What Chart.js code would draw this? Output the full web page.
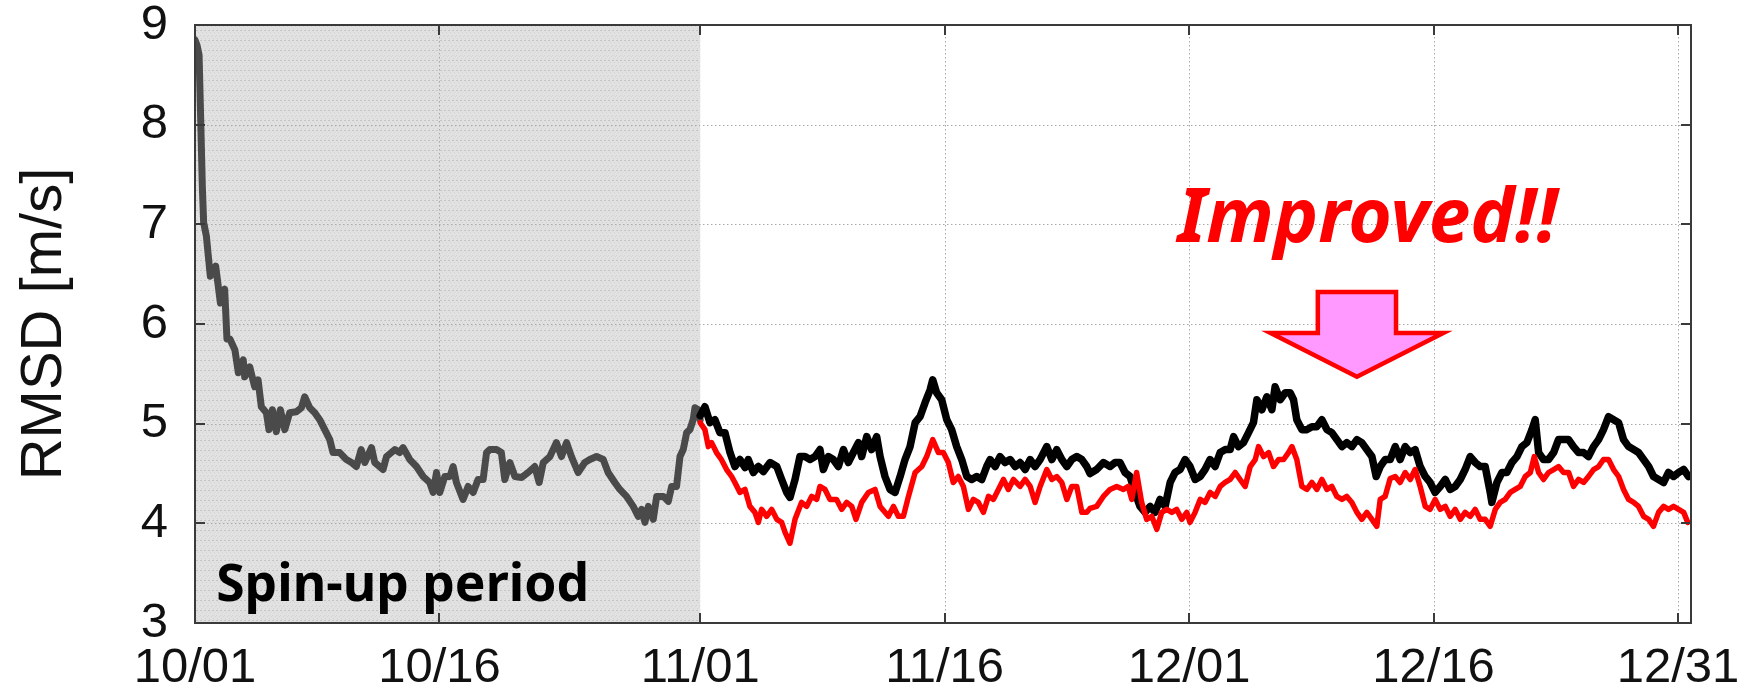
<!DOCTYPE html>
<html>
<head>
<meta charset="utf-8">
<script src="https://cdn.jsdelivr.net/npm/chart.js@4.4.1/dist/chart.umd.min.js"></script>
<style>
  html, body { margin: 0; padding: 0; background: #fff; }
  #wrap { width: 1751px; height: 699px; }
</style>
</head>
<body>
<div id="wrap"><canvas id="c" width="1751" height="699"></canvas></div>
<script>
// x positions are days since 10/01 00Z
const tickDays   = [0, 15, 31, 46, 61, 76, 91];
const tickLabels = ['10/01', '10/16', '11/01', '11/16', '12/01', '12/16', '12/31'];
const spinupEnd = 31;

// spin-up period (gray)
const spinupDays = [0.0,0.12,0.25,0.35,0.45,0.53,0.7,0.8,0.94,1.27,1.56,1.82,1.96,2.14,2.45,2.66,2.96,3.05,3.36,3.66,3.87,4.07,4.38,4.54,4.75,4.99,5.24,5.51,5.81,6.22,6.53,6.73,7.04,7.35,7.65,7.96,8.27,8.47,8.88,9.29,9.6,9.9,10.2,10.42,10.83,11.03,11.54,11.75,12.26,12.56,12.77,13.18,13.59,14.0,14.4,14.61,14.82,15.02,15.33,15.64,15.84,16.04,16.45,16.76,17.07,17.37,17.68,17.89,18.09,18.5,18.8,19.01,19.32,19.63,20.04,20.44,20.85,21.12,21.37,21.78,22.18,22.49,22.8,23.1,23.51,23.92,24.23,24.64,25.05,25.35,25.76,26.07,26.48,26.89,27.2,27.41,27.61,27.82,28.12,28.33,28.74,29.04,29.25,29.55,29.76,29.96,30.17,30.37,30.57,30.68,30.88,31.0];
const spinupRmsd = [8.85,8.8,8.7,8.05,7.38,7.02,6.88,6.71,6.48,6.58,6.21,6.35,5.85,5.85,5.74,5.51,5.64,5.47,5.57,5.37,5.44,5.17,5.11,4.94,5.14,4.92,5.14,4.94,5.11,5.12,5.16,5.27,5.16,5.11,5.04,4.94,4.84,4.71,4.71,4.64,4.61,4.57,4.74,4.61,4.76,4.61,4.54,4.67,4.74,4.71,4.76,4.64,4.57,4.47,4.41,4.31,4.51,4.31,4.47,4.47,4.57,4.41,4.24,4.37,4.31,4.44,4.44,4.71,4.74,4.74,4.71,4.44,4.61,4.47,4.46,4.51,4.57,4.41,4.61,4.67,4.81,4.67,4.81,4.67,4.51,4.61,4.64,4.67,4.64,4.51,4.41,4.34,4.27,4.17,4.07,4.14,4.01,4.17,4.04,4.27,4.27,4.22,4.37,4.37,4.67,4.74,4.91,4.94,5.04,5.16,5.14,5.04];

// black run after spin-up
const ctrlDays = [31.0,31.29,31.6,31.9,32.21,32.52,32.83,33.13,33.44,33.75,33.95,34.26,34.57,34.88,35.29,35.7,36.0,36.31,36.51,36.82,37.12,37.43,37.74,38.05,38.35,38.56,38.86,39.17,39.48,39.79,40.09,40.4,40.71,40.91,41.22,41.52,41.83,42.04,42.34,42.65,42.96,43.27,43.57,43.88,44.19,44.49,44.8,45.11,45.27,45.51,45.82,46.13,46.43,46.74,47.05,47.36,47.66,47.97,48.28,48.58,48.79,49.1,49.4,49.71,50.02,50.33,50.63,50.94,51.25,51.55,51.86,52.27,52.58,52.88,53.19,53.5,53.8,54.11,54.42,54.72,54.92,55.33,55.74,56.15,56.46,56.76,57.07,57.38,57.68,57.99,58.3,58.61,58.91,59.22,59.53,59.84,60.14,60.45,60.76,61.06,61.37,61.68,61.98,62.29,62.6,62.91,63.21,63.52,63.73,64.03,64.34,64.65,64.95,65.16,65.47,65.77,66.08,66.28,66.59,66.9,67.2,67.41,67.61,67.92,68.23,68.54,68.84,69.15,69.46,69.76,70.07,70.38,70.68,70.99,71.3,71.6,71.91,72.22,72.48,72.73,73.03,73.34,73.65,73.95,74.26,74.57,74.87,75.18,75.49,75.79,76.1,76.41,76.72,77.02,77.33,77.64,77.94,78.25,78.56,78.86,79.17,79.48,79.58,79.89,80.2,80.5,80.81,81.12,81.42,81.73,82.04,82.24,82.45,82.75,83.06,83.37,83.67,83.98,84.29,84.59,84.9,85.21,85.51,85.82,86.13,86.43,86.74,87.05,87.36,87.66,87.97,88.28,88.58,88.89,89.2,89.5,89.81,90.12,90.42,90.73,91.04,91.35,91.65];
const ctrlRmsd = [5.08,5.17,5.01,5.04,4.91,4.91,4.71,4.57,4.64,4.56,4.64,4.51,4.57,4.52,4.61,4.57,4.44,4.31,4.26,4.44,4.67,4.67,4.64,4.67,4.74,4.54,4.67,4.64,4.57,4.74,4.61,4.71,4.81,4.67,4.87,4.74,4.87,4.67,4.47,4.34,4.31,4.47,4.64,4.77,5.01,5.07,5.21,5.34,5.44,5.31,5.24,5.04,4.94,4.77,4.64,4.47,4.44,4.47,4.44,4.57,4.64,4.57,4.67,4.61,4.64,4.57,4.61,4.54,4.64,4.57,4.64,4.77,4.64,4.74,4.64,4.57,4.64,4.67,4.64,4.57,4.5,4.54,4.61,4.57,4.61,4.61,4.51,4.47,4.31,4.17,4.11,4.17,4.11,4.24,4.17,4.41,4.51,4.54,4.64,4.57,4.44,4.47,4.54,4.64,4.57,4.71,4.74,4.74,4.87,4.77,4.81,4.91,5.01,5.24,5.14,5.27,5.14,5.37,5.24,5.31,5.31,5.24,5.04,4.94,4.94,4.97,4.97,5.04,4.94,4.91,4.84,4.77,4.81,4.77,4.84,4.81,4.74,4.67,4.47,4.57,4.64,4.64,4.77,4.64,4.77,4.71,4.74,4.57,4.47,4.41,4.31,4.37,4.44,4.34,4.37,4.44,4.54,4.67,4.61,4.57,4.57,4.31,4.21,4.41,4.51,4.51,4.61,4.67,4.77,4.81,4.94,5.04,4.71,4.64,4.64,4.71,4.84,4.84,4.84,4.77,4.71,4.71,4.67,4.77,4.84,4.94,5.07,5.04,5.01,4.84,4.77,4.74,4.71,4.64,4.57,4.47,4.44,4.41,4.51,4.47,4.51,4.54,4.47];

// red run after spin-up
const expDays = [31.0,31.29,31.5,31.7,32.0,32.3,32.62,32.93,33.13,33.44,33.75,34.05,34.36,34.57,34.77,35.08,35.39,35.7,36.0,36.21,36.51,36.82,37.22,37.53,37.84,38.15,38.35,38.66,38.96,39.37,39.68,39.99,40.3,40.56,40.91,41.32,41.73,42.04,42.55,42.86,43.16,43.47,43.78,44.19,44.6,44.9,45.27,45.62,45.92,46.23,46.53,46.84,47.15,47.46,47.76,48.07,48.38,48.69,48.99,49.3,49.61,49.91,50.22,50.63,50.94,51.25,51.55,51.86,52.27,52.58,52.88,53.19,53.5,53.8,54.11,54.42,54.72,54.92,55.33,55.74,56.15,56.56,56.97,57.27,57.48,57.78,58.09,58.4,58.71,59.02,59.32,59.63,59.94,60.24,60.55,60.86,61.06,61.37,61.68,61.98,62.29,62.6,62.91,63.21,63.52,63.83,64.13,64.44,64.75,65.06,65.26,65.57,65.88,66.18,66.49,66.8,67.1,67.31,67.61,67.92,68.23,68.54,68.84,69.15,69.46,69.76,70.07,70.38,70.68,70.99,71.3,71.6,71.91,72.22,72.52,72.73,73.03,73.34,73.65,73.95,74.26,74.57,74.87,75.18,75.49,75.79,76.1,76.41,76.72,77.02,77.33,77.64,77.94,78.25,78.56,78.86,79.17,79.48,79.79,80.09,80.4,80.71,81.01,81.32,81.63,81.94,82.18,82.45,82.75,83.06,83.37,83.67,83.98,84.29,84.59,84.9,85.21,85.51,85.82,86.13,86.43,86.74,87.05,87.36,87.66,87.97,88.28,88.58,88.89,89.2,89.5,89.81,90.12,90.42,90.73,91.04,91.35,91.6];
const expRmsd = [5.01,4.94,4.77,4.81,4.71,4.64,4.54,4.47,4.41,4.31,4.34,4.17,4.11,4.01,4.14,4.07,4.14,4.04,4.01,3.91,3.8,4.04,4.21,4.17,4.27,4.24,4.37,4.34,4.24,4.24,4.14,4.21,4.17,4.04,4.21,4.31,4.34,4.17,4.07,4.17,4.07,4.07,4.27,4.51,4.57,4.67,4.84,4.71,4.71,4.61,4.41,4.47,4.37,4.14,4.24,4.21,4.11,4.27,4.24,4.34,4.44,4.34,4.44,4.37,4.44,4.37,4.21,4.37,4.54,4.44,4.47,4.41,4.24,4.37,4.37,4.11,4.11,4.15,4.17,4.27,4.34,4.37,4.34,4.37,4.24,4.51,4.21,4.04,4.07,3.94,4.11,4.14,4.11,4.14,4.04,4.11,4.01,4.11,4.24,4.21,4.31,4.27,4.37,4.41,4.44,4.51,4.44,4.37,4.57,4.64,4.77,4.67,4.71,4.57,4.64,4.64,4.71,4.77,4.64,4.37,4.34,4.41,4.34,4.44,4.34,4.37,4.27,4.24,4.27,4.21,4.11,4.04,4.11,4.04,3.97,4.24,4.27,4.45,4.47,4.41,4.51,4.44,4.54,4.37,4.17,4.14,4.24,4.14,4.17,4.07,4.14,4.04,4.11,4.07,4.14,4.04,4.04,3.97,4.14,4.21,4.24,4.31,4.34,4.37,4.47,4.51,4.67,4.51,4.44,4.51,4.54,4.57,4.51,4.51,4.37,4.44,4.41,4.47,4.54,4.57,4.64,4.64,4.54,4.47,4.34,4.24,4.21,4.17,4.07,4.04,3.97,4.11,4.17,4.14,4.17,4.14,4.11,4.01];

const toPoints = (xs, ys) => xs.map((d, i) => ({ x: d, y: ys[i] }));

// halftone-like fill for the spin-up band
function makeShadePattern(ctx) {
  const p = document.createElement('canvas');
  p.width = 4; p.height = 10;
  const g = p.getContext('2d');
  g.fillStyle = '#e1e1e1';
  g.fillRect(0, 0, 4, 10);
  g.fillStyle = '#d3d3d3';
  g.fillRect(0, 5, 1, 1); g.fillRect(2, 2, 1, 1); g.fillRect(1, 8, 1, 1); g.fillRect(3, 6, 1, 1);
  g.fillStyle = '#c4c4c4';
  g.fillRect(0, 0, 2, 1);
  return ctx.createPattern(p, 'repeat');
}

// scales keep no extra padding; the layout padding alone places the plot box
const noPad = s => { s.paddingTop = 0; s.paddingBottom = 0; s.paddingLeft = 0; s.paddingRight = 0; };

const frame = {
  id: 'frame',
  beforeDatasetsDraw(chart) {
    const { ctx, chartArea: a, scales: { x, y } } = chart;
    ctx.save();
    // spin-up shading
    const xe = x.getPixelForValue(spinupEnd);
    ctx.fillStyle = makeShadePattern(ctx);
    ctx.fillRect(a.left, a.top, xe - a.left, a.bottom - a.top);
    // dotted grid
    ctx.strokeStyle = '#a8a8a8';
    ctx.lineWidth = 1;
    ctx.setLineDash([1.5, 2.5]);
    for (let v = 4; v <= 8; v++) {
      const py = Math.round(y.getPixelForValue(v)) + 0.5;
      ctx.beginPath(); ctx.moveTo(a.left, py); ctx.lineTo(a.right, py); ctx.stroke();
    }
    tickDays.forEach((d, i) => {
      if (i === 0) return;
      const px = Math.round(x.getPixelForValue(d)) + 0.5;
      ctx.strokeStyle = d === spinupEnd ? '#f4f4f4' : '#a8a8a8';
      ctx.beginPath(); ctx.moveTo(px, a.top); ctx.lineTo(px, a.bottom); ctx.stroke();
    });
    ctx.restore();
  },
  afterDatasetsDraw(chart) {
    const { ctx, chartArea: a, scales: { x, y } } = chart;
    ctx.save();
    // border
    ctx.strokeStyle = '#3a3a3a';
    ctx.lineWidth = 2;
    ctx.strokeRect(a.left, a.top, a.right - a.left, a.bottom - a.top);
    // inward ticks
    const tl = 10;
    ctx.beginPath();
    for (let v = 4; v <= 8; v++) {
      const py = Math.round(y.getPixelForValue(v));
      ctx.moveTo(a.left, py); ctx.lineTo(a.left + tl, py);
      ctx.moveTo(a.right, py); ctx.lineTo(a.right - tl, py);
    }
    tickDays.forEach(d => {
      const px = Math.round(x.getPixelForValue(d));
      ctx.moveTo(px, a.bottom); ctx.lineTo(px, a.bottom - tl);
      ctx.moveTo(px, a.top); ctx.lineTo(px, a.top + tl);
    });
    ctx.stroke();

    const X = v => x.getPixelForValue(v), Y = v => y.getPixelForValue(v);
    const fit = (text, font, size, width) => {
      ctx.font = font.replace('SZ', size + 'px');
      const w = ctx.measureText(text).width;
      ctx.font = font.replace('SZ', (size * width / w).toFixed(1) + 'px');
    };
    ctx.textBaseline = 'alphabetic';
    ctx.textAlign = 'left';

    // "Spin-up period" label
    ctx.fillStyle = '#000';
    fit('Spin-up period', 'bold SZ "Noto Sans"', 50, 373);
    ctx.fillText('Spin-up period', X(1.3), Y(3.22));

    // "Improved!!" label
    ctx.fillStyle = '#ff0000';
    fit('Improved!!', 'italic bold SZ "Noto Sans"', 70, 380);
    ctx.fillText('Improved!!', X(60.3), Y(6.82));

    // down arrow
    ctx.beginPath();
    ctx.moveTo(X(68.9), Y(6.32));
    ctx.lineTo(X(73.7), Y(6.32));
    ctx.lineTo(X(73.7), Y(5.91));
    ctx.lineTo(X(76.6), Y(5.91));
    ctx.lineTo(X(71.3), Y(5.47));
    ctx.lineTo(X(66.0), Y(5.91));
    ctx.lineTo(X(68.9), Y(5.91));
    ctx.closePath();
    ctx.fillStyle = '#ff99ff';
    ctx.fill();
    ctx.strokeStyle = '#ff0000';
    ctx.lineWidth = 4.5;
    ctx.lineJoin = 'miter';
    ctx.stroke();
    ctx.restore();
  }
};

const lineStyle = { pointRadius: 0, tension: 0, borderJoinStyle: 'round', borderCapStyle: 'round', fill: false };

new Chart(document.getElementById('c'), {
  type: 'line',
  data: {
    datasets: [
      Object.assign({ label: 'exp', data: toPoints(expDays, expRmsd), borderColor: '#ff0000', borderWidth: 5.5, order: 0 }, lineStyle),
      Object.assign({ label: 'ctrl', data: toPoints(ctrlDays, ctrlRmsd), borderColor: '#000000', borderWidth: 7.5, order: 1 }, lineStyle),
      Object.assign({ label: 'spin-up', data: toPoints(spinupDays, spinupRmsd), borderColor: '#4a4a4a', borderWidth: 7, order: 2 }, lineStyle)
    ]
  },
  options: {
    responsive: false,
    animation: false,
    devicePixelRatio: 1,
    layout: { padding: { top: 25, right: 60, left: 0, bottom: 0 } },
    plugins: { legend: { display: false }, tooltip: { enabled: false } },
    scales: {
      x: {
        type: 'linear', min: 0, max: 91.8,
        grid: { display: false, drawTicks: false },
        border: { display: false },
        afterBuildTicks: s => { s.ticks = tickDays.map(v => ({ value: v })); },
        afterFit: s => { s.height = 76; noPad(s); },
        ticks: {
          autoSkip: false, maxRotation: 0, padding: 16, color: '#111',
          font: { family: '"Liberation Sans", Arial, sans-serif', size: 49 },
          callback: v => tickLabels[tickDays.indexOf(v)] ?? ''
        }
      },
      y: {
        min: 3, max: 9,
        grid: { display: false, drawTicks: false },
        border: { display: false },
        afterFit: s => { s.width = 195; noPad(s); },
        ticks: {
          stepSize: 1, padding: 27, color: '#111',
          font: { family: '"Liberation Sans", Arial, sans-serif', size: 49 }
        },
        title: {
          display: true, text: 'RMSD [m/s]', color: '#111',
          font: { family: '"Liberation Sans", Arial, sans-serif', size: 58, weight: 'normal' },
          padding: { top: 10, bottom: 0 }
        }
      }
    }
  },
  plugins: [frame]
});
</script>
</body>
</html>
